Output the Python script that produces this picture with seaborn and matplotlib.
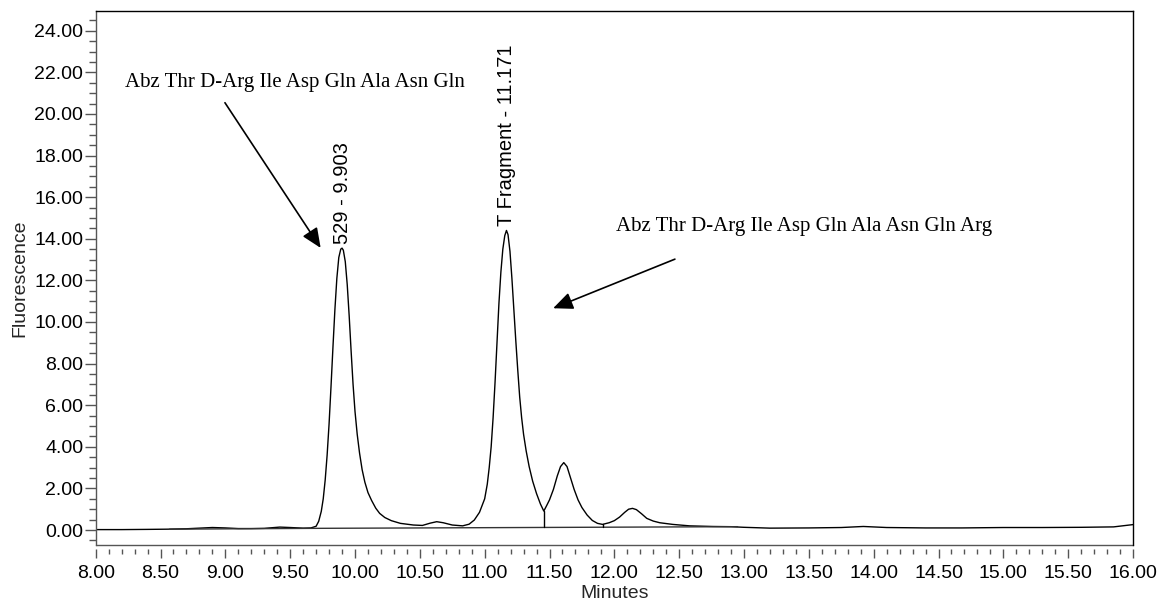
import matplotlib
matplotlib.use("Agg")
import matplotlib.pyplot as plt
from matplotlib.ticker import MultipleLocator, FormatStrFormatter
import pandas as pd
import seaborn as sns

# Detector trace (retention time in minutes, fluorescence signal)
minutes = [
    8.00, 8.20, 8.40, 8.55, 8.70, 8.80, 8.90, 9.00, 9.10, 9.20, 9.30, 9.42,
    9.50, 9.60, 9.66, 9.70, 9.72, 9.74, 9.755, 9.77, 9.785, 9.80, 9.815, 9.83,
    9.845, 9.86, 9.875, 9.89, 9.90, 9.91, 9.925, 9.94, 9.955, 9.97, 9.985,
    10.00, 10.017, 10.035, 10.055, 10.076, 10.10, 10.128, 10.16, 10.19, 10.23,
    10.28, 10.35, 10.45, 10.52, 10.58, 10.63, 10.68, 10.75, 10.83, 10.88,
    10.92, 10.96, 11.00, 11.02, 11.035, 11.05, 11.065, 11.08, 11.095, 11.11,
    11.125, 11.14, 11.155, 11.168, 11.18, 11.195, 11.21, 11.225, 11.24, 11.255,
    11.27, 11.285, 11.30, 11.32, 11.343, 11.37, 11.40, 11.43, 11.456, 11.48,
    11.50, 11.53, 11.56, 11.585, 11.61, 11.635, 11.66, 11.69, 11.72, 11.75,
    11.79, 11.83, 11.87, 11.909, 11.96, 12.00, 12.04, 12.08, 12.11, 12.14,
    12.17, 12.21, 12.25, 12.30, 12.35, 12.45, 12.58, 12.76, 12.90, 13.00,
    13.20, 13.50, 13.75, 13.92, 14.10, 14.40, 14.68, 15.00, 15.30, 15.60,
    15.85, 16.00,
]
fluorescence = [
    0.02, 0.02, 0.03, 0.04, 0.06, 0.09, 0.12, 0.10, 0.07, 0.07, 0.08, 0.14,
    0.12, 0.09, 0.10, 0.18, 0.42, 0.90, 1.50, 2.40, 3.60, 5.10, 6.90, 8.80,
    10.60, 12.10, 13.10, 13.50, 13.55, 13.45, 12.90, 11.80, 10.30, 8.60, 7.00,
    5.70, 4.60, 3.70, 2.90, 2.30, 1.80, 1.42, 1.05, 0.80, 0.60,
    0.45, 0.32, 0.24, 0.22, 0.33, 0.40, 0.35, 0.24, 0.20, 0.28,
    0.48, 0.85, 1.50, 2.20, 3.00, 4.00, 5.40, 7.10, 9.00, 10.90,
    12.40, 13.50, 14.15, 14.40, 14.20, 13.40, 12.10, 10.60, 9.10, 7.70,
    6.40, 5.40, 4.60, 3.80, 3.05, 2.35, 1.75, 1.25, 0.91, 1.20,
    1.45, 1.95, 2.60, 3.05, 3.24, 3.05, 2.55, 1.95, 1.45, 1.08,
    0.72, 0.46, 0.32, 0.27, 0.35, 0.45, 0.62, 0.85, 1.00, 1.04,
    0.98, 0.78, 0.56, 0.43, 0.35, 0.27, 0.20, 0.17, 0.16, 0.13,
    0.09, 0.10, 0.12, 0.17, 0.12, 0.10, 0.10, 0.12, 0.12, 0.13,
    0.15, 0.26,
]

# Integration baseline and peak drop lines
baseline_minutes = [8.57, 9.68, 12.95]
baseline_values = [0.04, 0.08, 0.16]
drop_minutes = [11.456, 11.909]
drop_tops = [0.91, 0.27]
drop_bottoms = [0.13, 0.14]

# Peak labels
peak_labels = ["529 - 9.903", "T Fragment - 11.171"]
peak_times = [9.903, 11.171]
peak_heights = [13.55, 14.40]

# Compound names with arrows pointing at their peaks
compound_names = [
    "Abz Thr D-Arg Ile Asp Gln Ala Asn Gln",
    "Abz Thr D-Arg Ile Asp Gln Ala Asn Gln Arg",
]
name_xy = [(8.226, 21.3), (12.012, 14.38)]
arrow_tails = [(8.997, 20.54), (12.467, 13.02)]
arrow_heads = [(9.735, 13.56), (11.528, 10.66)]

sns.set_theme(style="white")
plt.rcParams["font.family"] = ["Liberation Sans", "DejaVu Sans"]

fig = plt.figure(figsize=(11.61, 6.03), dpi=100)
ax = fig.add_axes([0.0824, 0.0962, 0.8935, 0.8856])

trace = pd.DataFrame({"Minutes": minutes, "Fluorescence": fluorescence})
sns.lineplot(data=trace, x="Minutes", y="Fluorescence", ax=ax,
             color="black", linewidth=1.0, estimator=None, sort=False)

ax.plot(baseline_minutes, baseline_values, color="#333333", linewidth=1.0)
for t, top, bot in zip(drop_minutes, drop_tops, drop_bottoms):
    ax.plot([t, t], [bot, top], color="black", linewidth=1.0)

for label, t, h in zip(peak_labels, peak_times, peak_heights):
    ax.annotate(label, xy=(t, h), xytext=(0, 3), textcoords="offset points",
                rotation=90, ha="center", va="bottom", fontsize=14.5,
                color="black")

for name, pos in zip(compound_names, name_xy):
    ax.text(pos[0], pos[1], name, family=["Liberation Serif", "DejaVu Serif"],
            fontsize=15, ha="left", va="baseline", color="black")

for tail, head in zip(arrow_tails, arrow_heads):
    ax.annotate("", xy=head, xytext=tail,
                arrowprops=dict(arrowstyle="-|>,head_length=0.8,head_width=0.35",
                                mutation_scale=15, lw=1.2, color="black",
                                shrinkA=0, shrinkB=0))

ax.set_xlim(8.0, 16.0)
ax.set_ylim(-0.72, 24.95)

ax.xaxis.set_major_locator(MultipleLocator(0.5))
ax.xaxis.set_minor_locator(MultipleLocator(0.1))
ax.xaxis.set_major_formatter(FormatStrFormatter("%.2f"))
ax.yaxis.set_major_locator(MultipleLocator(2.0))
ax.yaxis.set_minor_locator(MultipleLocator(0.5))
ax.yaxis.set_major_formatter(FormatStrFormatter("%.2f"))

axis_color = "#555555"
for side in ["top", "right", "left"]:
    ax.spines[side].set_color("black" if side != "left" else axis_color)
    ax.spines[side].set_linewidth(1.0)
# x ticks hang a little below the frame
ax.spines["bottom"].set_position(("outward", 3))
ax.spines["bottom"].set_visible(False)
ax.plot([0, 1], [0, 0], transform=ax.transAxes, color=axis_color,
        linewidth=1.0, clip_on=False)

ax.tick_params(axis="both", which="both", direction="out", color=axis_color,
               labelsize=14, labelcolor="black")
ax.tick_params(axis="x", which="major", length=6.5, width=1, pad=5, bottom=True)
ax.tick_params(axis="x", which="minor", length=3.5, width=1, bottom=True)
ax.tick_params(axis="y", which="major", length=8, width=1, pad=1, left=True)
ax.tick_params(axis="y", which="minor", length=5, width=1, left=True)

ax.set_xlabel("Minutes", fontsize=14, labelpad=2)
ax.set_ylabel("Fluorescence", fontsize=14, labelpad=4)

fig.savefig("out.png", dpi=100)
